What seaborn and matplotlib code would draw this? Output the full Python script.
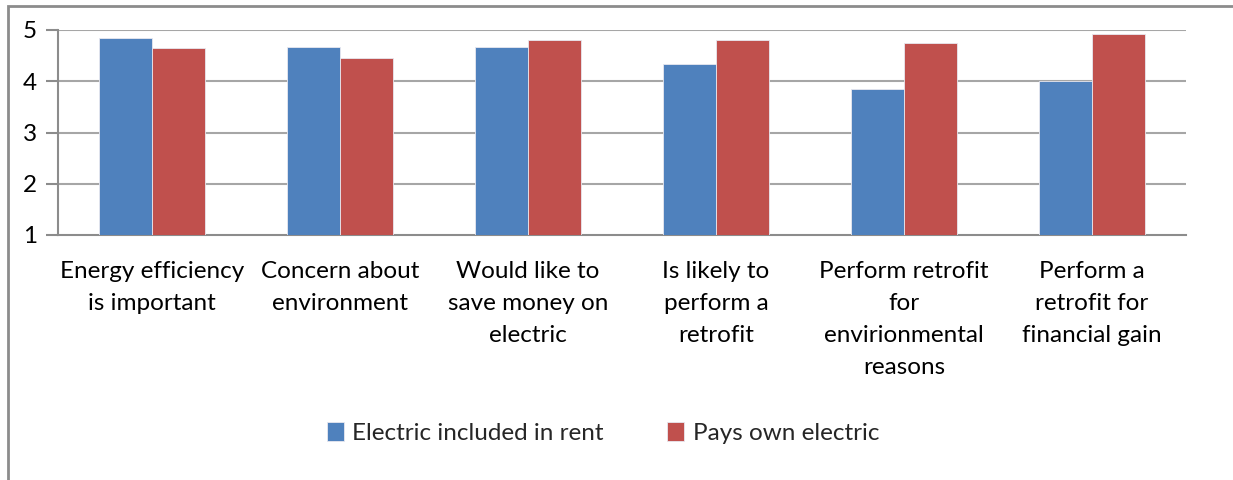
import matplotlib
matplotlib.use("Agg")
import matplotlib.pyplot as plt
from matplotlib.patches import Rectangle
import seaborn as sns
import pandas as pd

categories = [
    "Energy efficiency\nis important",
    "Concern about\nenvironment",
    "Would like to\nsave money on\nelectric",
    "Is likely to\nperform a\nretrofit",
    "Perform retrofit\nfor\nenvirionmental\nreasons",
    "Perform a\nretrofit for\nfinancial gain",
]
series_names = ["Electric included in rent", "Pays own electric"]
included_in_rent = [4.84, 4.66, 4.66, 4.34, 3.84, 4.00]
pays_own = [4.64, 4.46, 4.81, 4.81, 4.74, 4.92]
y_ticks = [1, 2, 3, 4, 5]

df = pd.DataFrame({
    "category": categories * 2,
    "series": [series_names[0]] * len(categories) + [series_names[1]] * len(categories),
    "value": included_in_rent + pays_own,
})

sns.set_theme(style="white")
plt.rcParams["font.family"] = ["Lato", "DejaVu Sans"]

fig = plt.figure(figsize=(12.33, 4.8), dpi=100)
ax = fig.add_axes([58 / 1233, 1 - 235 / 480, (1186 - 58) / 1233, (235 - 30) / 480])

palette = {series_names[0]: "#4F81BD", series_names[1]: "#C0504D"}
sns.barplot(data=df, x="category", y="value", hue="series", palette=palette,
            width=0.56, saturation=1, ax=ax, zorder=3, legend=True,
            edgecolor="#E8E8F0", linewidth=0.6)

# bars start at the y-axis floor of 1
for bar in ax.patches:
    h = bar.get_height()
    if h > 0:
        bar.set_y(1)
        bar.set_height(h - 1)

ax.set_ylim(1, 5)
ax.set_xlim(-0.5, len(categories) - 0.5)
ax.set_yticks(y_ticks)
ax.set_xlabel("")
ax.set_ylabel("")

grid_col = "#A6A6A6"
for v in y_ticks[1:]:
    ax.axhline(v, color=grid_col, lw=1.5, zorder=1)

for s in ["top", "right"]:
    ax.spines[s].set_visible(False)
for s in ["left", "bottom"]:
    ax.spines[s].set_color("#8C8C8C")
    ax.spines[s].set_linewidth(1.5)

fs = 17.5
ax.set_xticks([i - 0.5 for i in range(len(categories) + 1)], minor=True)
ax.tick_params(axis="x", which="major", length=0, pad=19, labelsize=fs, colors="#000000")
ax.tick_params(axis="x", which="minor", length=9, width=1.5, color="#8C8C8C", direction="out")
ax.tick_params(axis="y", which="major", left=True, length=9, width=1.5, color="#8C8C8C",
               direction="out", pad=6, labelsize=fs, labelcolor="#000000")
for lbl in ax.get_xticklabels():
    lbl.set_linespacing(1.64)
    lbl.set_va("top")

leg = ax.legend(loc="center", bbox_to_anchor=(603 / 1233, 1 - 433 / 480),
                bbox_transform=fig.transFigure, ncol=2, frameon=False,
                fontsize=fs, handlelength=0.7, handleheight=0.8,
                handletextpad=0.35, columnspacing=2.6)

fig.patches.append(Rectangle((8 / 1233, -0.1), 1.2, 1 - 6 / 480 + 0.1,
                             transform=fig.transFigure, fill=False,
                             edgecolor="#8C8C8C", lw=2))

fig.savefig("out.png", dpi=100, facecolor="white")
